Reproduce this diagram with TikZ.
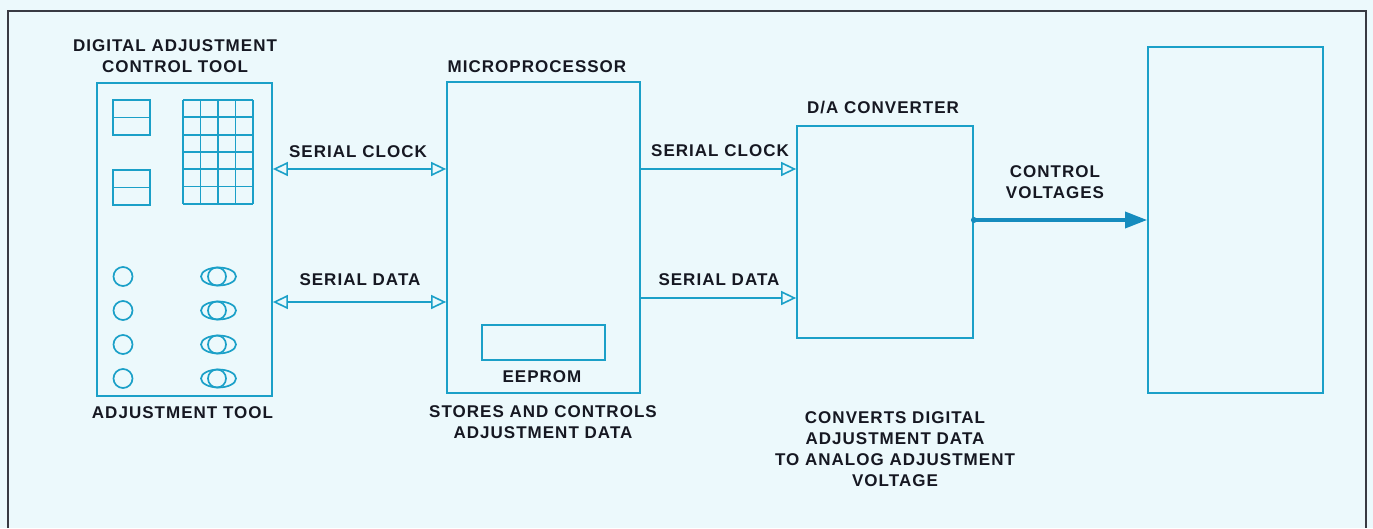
\documentclass[tikz,border=0pt]{standalone}
\usepackage{fontspec}
\setmainfont{Liberation Sans}[LetterSpace=6]
\usetikzlibrary{arrows.meta}
\definecolor{diagCyan}{RGB}{27, 160, 200}
\definecolor{diagDeep}{RGB}{22, 140, 190}
\definecolor{diagPaper}{RGB}{236, 249, 252}
\definecolor{diagInk}{RGB}{22, 24, 34}

\begin{document}
\begin{tikzpicture}[x=1pt, y=-1pt,
    blockbox/.style={draw=diagCyan, line width=1.8pt, inner sep=0pt},
    lbl/.style={font=\bfseries\fontsize{17}{21}\selectfont, text=diagInk, align=center, inner sep=0pt},
    knob/.style={draw=diagCyan, line width=1.7pt},
    biarrow/.style={draw=diagCyan, line width=1.6pt,
        {Triangle[open,length=15pt,width=14pt]}-{Triangle[open,length=15pt,width=14pt]}},
    onearrow/.style={draw=diagCyan, line width=1.6pt, -{Triangle[open,length=15pt,width=14pt]}},
    cvarrow/.style={draw=diagDeep, line width=3.5pt, -{Triangle[length=22pt,width=16pt]}}]
    \fill[diagPaper] (0,0) rectangle (1373,528);
    \draw[line width=1.8pt, diagInk!85] (8,528) -- (8,11) -- (1366,11) -- (1366,528);

    \node[blockbox, minimum width=175pt, minimum height=313pt] (tool) at (184.5,239.5) {};
    \node[blockbox, minimum width=193pt, minimum height=311pt] (micro) at (543.5,237.5) {};
    \node[blockbox, minimum width=123pt, minimum height=35pt] (eeprom) at (543.5,342.5) {};
    \node[blockbox, minimum width=176pt, minimum height=212pt] (dac) at (885,232) {};
    \node[blockbox, minimum width=175pt, minimum height=346pt] (load) at (1235.5,220) {};

    \node[lbl] (toolTitle) at (175,56) {DIGITAL ADJUSTMENT\\CONTROL TOOL};
    \node[lbl] (toolName) at (182.5,413) {ADJUSTMENT TOOL};
    \node[lbl] (microTitle) at (537,67) {MICROPROCESSOR};
    \node[lbl] (eepromName) at (542,377) {EEPROM};
    \node[lbl] (microNote) at (543,422) {STORES AND CONTROLS\\ADJUSTMENT DATA};
    \node[lbl] (dacTitle) at (883,108) {D/A CONVERTER};
    \node[lbl] (dacNote) at (895,449) {CONVERTS DIGITAL\\ADJUSTMENT DATA\\TO ANALOG ADJUSTMENT\\VOLTAGE};

    % tool panel
    \foreach \yy in {100,170} {
        \draw[knob] (113,\yy) rectangle (150,\yy+35);
        \draw[knob] (113,\yy+17.5) -- (150,\yy+17.5);
    }
    \foreach \i in {0,...,4}
        \draw[knob] (183+\i*17.5,100) -- (183+\i*17.5,204);
    \foreach \j in {0,...,6}
        \draw[knob] (183,100+\j*17.33) -- (253,100+\j*17.33);
    \foreach \yy in {276.5,310.5,344.5,378.5} {
        \draw[knob] (123,\yy) circle [radius=9.5];
        \draw[knob] (218.5,\yy) ellipse [x radius=17.5, y radius=9];
        \draw[knob] (217,\yy) circle [radius=9];
    }

    \coordinate (clkA) at (0,169);
    \coordinate (datA) at (0,302);
    \coordinate (clkB) at (0,169);
    \coordinate (datB) at (0,298);
    \coordinate (cv) at (0,220);

    \node[lbl] (lblClkA) at (358,152) {SERIAL CLOCK};
    \node[lbl] (lblDatA) at (360,280) {SERIAL DATA};
    \node[lbl] (lblClkB) at (720,151) {SERIAL CLOCK};
    \node[lbl] (lblDatB) at (719,280) {SERIAL DATA};
    \node[lbl] (lblCv) at (1055,182.5) {CONTROL\\VOLTAGES};

    \draw[biarrow] (tool.east |- clkA) -- (micro.west |- clkA);
    \draw[biarrow] (tool.east |- datA) -- (micro.west |- datA);
    \draw[onearrow] (micro.east |- clkB) -- (dac.west |- clkB);
    \draw[onearrow] (micro.east |- datB) -- (dac.west |- datB);
    \draw[cvarrow] (dac.east |- cv) -- (load.west |- cv);
    \fill[diagDeep] (dac.east |- cv) circle [radius=3];
\end{tikzpicture}
\end{document}
